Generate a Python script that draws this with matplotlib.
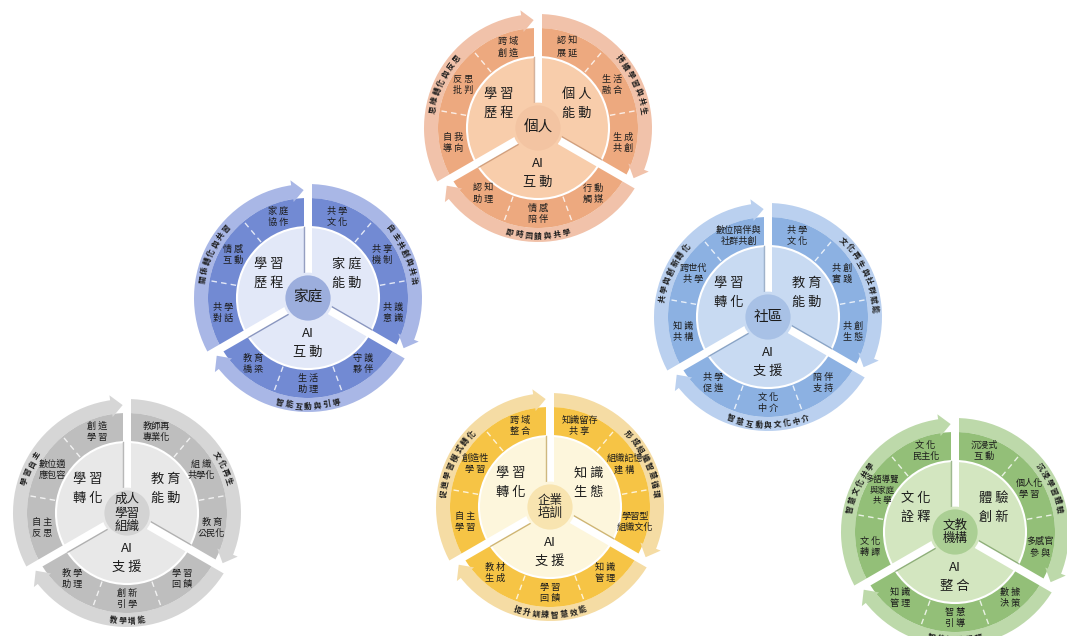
import numpy as np
import matplotlib.pyplot as plt
from matplotlib.patches import Wedge, Circle, Polygon

plt.rcParams['font.family'] = ['Noto Sans CJK TC', 'DejaVu Sans']

W, H = 1067, 636

# ---- content ----
hub_names = ['個人', '家庭', '社區', '成人\n學習\n組織', '企業\n培訓', '文教\n機構']

# inner ring labels: [upper-left, upper-right, bottom]
inner_labels = [
    ['學 習\n歷 程', '個 人\n能 動', 'AI\n互 動'],
    ['學 習\n歷 程', '家 庭\n能 動', 'AI\n互 動'],
    ['學 習\n轉 化', '教 育\n能 動', 'AI\n支 援'],
    ['學 習\n轉 化', '教 育\n能 動', 'AI\n支 援'],
    ['學 習\n轉 化', '知 識\n生 態', 'AI\n支 援'],
    ['文 化\n詮 釋', '體 驗\n創 新', 'AI\n整 合'],
]

# outer cells, per sector, ordered top -> bottom / left -> right
cell_labels = [
    [['跨域\n創造', '反思\n批判', '自我\n導向'],
     ['認知\n展延', '生活\n融合', '生成\n共創'],
     ['認知\n助理', '情感\n陪伴', '行動\n觸媒']],
    [['家庭\n協作', '情感\n互動', '共學\n對話'],
     ['共學\n文化', '共享\n機制', '共護\n意識'],
     ['教育\n橋梁', '生活\n助理', '守護\n夥伴']],
    [['數位陪伴與\n社群共創', '跨世代\n共學', '知識\n共構'],
     ['共學\n文化', '共創\n實踐', '共創\n生態'],
     ['共學\n促進', '文化\n中介', '陪伴\n支持']],
    [['創造\n學習', '數位適\n應包容', '自主\n反思'],
     ['教師再\n專業化', '組織\n共學化', '教育\n公民化'],
     ['教學\n助理', '創新\n引學', '學習\n回饋']],
    [['跨域\n整合', '創造性\n學習', '自主\n學習'],
     ['知識留存\n共享', '組織記憶\n建構', '學習型\n組織文化'],
     ['教材\n生成', '學習\n回饋', '知識\n管理']],
    [['文化\n民主化', '多語導覽\n與家庭\n共學', '文化\n轉譯'],
     ['沉浸式\n互動', '個人化\n學習', '多感官\n參與'],
     ['知識\n管理', '智慧\n引導', '數據\n決策']],
]

# curved labels on the outer band: [left, right, bottom]
arc_labels = [
    ['思維轉化與反思', '持續學習與共生', '即時回饋與共學'],
    ['關係轉化與共習', '自主共創與共治', '智能互動與引導'],
    ['共學與創新轉化', '文化再生與社群賦能', '智慧互動與文化中介'],
    ['學習自主', '文化再生', '教學增能'],
    ['促進學習模式轉化', '形成組織智慧循環', '提升訓練智慧效能'],
    ['智慧文化共學', '沉浸學習體驗', '智能知識服務'],
]

# ---- layout / style ----
wheel_xy = [(538, 128), (308, 298), (768, 317), (127, 513), (550, 507), (955, 532)]
# outer cells, inner ring, hub, band, shadow
palettes = [
    ('#EDA97F', '#F8CDAB', '#F3C4A2', '#F1C2AA', '#B8805C'),
    ('#728AD3', '#E2E8F8', '#9CAEDD', '#A9B7E6', '#4E5F99'),
    ('#8CB1E2', '#C8DAF2', '#A8C1E6', '#BAD0EF', '#5F7FA8'),
    ('#BEBEBE', '#E8E8E8', '#D3D3D3', '#D6D6D6', '#8A8A8A'),
    ('#F6C445', '#FDF6DC', '#F8E4B0', '#F5DCA4', '#B08A2C'),
    ('#93BF78', '#D3E6C0', '#ABCF94', '#BDD9AA', '#5F8A48'),
]

sectors = [(90, 210), (-30, 90), (210, 330)]
cell_angles = [[110, 150, 190], [70, 30, -10], [230, 270, 310]]
inner_pos = [(148, 46), (32, 46), (270, 45)]
r0, r1, r2, r3 = 22, 71, 100, 114
gap_hw = 4.0
txt = '#1c1c1c'

fig = plt.figure(figsize=(W / 100, H / 100), dpi=100)
ax = fig.add_axes([0, 0, 1, 1])
ax.set_xlim(0, W)
ax.set_ylim(0, H)
ax.axis('off')


def pol(cx, cy, ang, r):
    a = np.radians(ang)
    return cx + r * np.cos(a), cy + r * np.sin(a)


def spaced(s):
    # loosen two-character lines a little, like the original typesetting
    return '\n'.join(' '.join(line) if len(line) <= 2 else line
                     for line in s.split('\n'))


def arc_text(cx, cy, text, mid, r, clockwise, step, size):
    n = len(text)
    d = np.degrees(step / r)
    for i, ch in enumerate(text):
        off = (i - (n - 1) / 2) * d
        if clockwise:
            th = mid - off
            rot = th - 90
        else:
            th = mid + off
            rot = th + 90
        x, y = pol(cx, cy, th, r)
        ax.text(x, y, ch, rotation=rot, rotation_mode='anchor', ha='center',
                va='center', fontsize=size, color=txt, fontweight='bold')


for k in range(len(hub_names)):
    cx, cy = wheel_xy[k][0], H - wheel_xy[k][1]
    c_out, c_in, c_hub, c_band, c_sh = palettes[k]

    # outer band with arrow at clockwise end
    for a0, a1 in sectors:
        ax.add_patch(Wedge((cx, cy), r3, a0 + 8, a1, width=r3 - r2,
                           facecolor=c_band, edgecolor='none', zorder=1))
        pts = [pol(cx, cy, a0 + 8.5, r2 - 3), pol(cx, cy, a0 + 8.5, r3 + 5),
               pol(cx, cy, a0 + 2.3, (r2 + r3) / 2 + 1)]
        ax.add_patch(Polygon(pts, closed=True, facecolor=c_band,
                             edgecolor='none', zorder=4))
        ax.add_patch(Wedge((cx, cy), r2, a0, a1, width=r2 - r1,
                           facecolor=c_out, edgecolor='none', zorder=2))
        for da in (40, 80):
            ax.plot(*zip(pol(cx, cy, a0 + da, r1 + 2), pol(cx, cy, a0 + da, r2 - 2)),
                    color='white', lw=1.0, ls=(0, (4, 3)), alpha=0.8, zorder=3)

    ax.add_patch(Circle((cx, cy), r1, facecolor=c_in, edgecolor='white',
                        lw=1.5, alpha=1, zorder=3))

    # white gaps between sectors
    for a in (90, 210, 330):
        u = np.array([np.cos(np.radians(a)), np.sin(np.radians(a))])
        v = np.array([-u[1], u[0]])
        c = np.array([cx, cy])
        L = r3 + 10
        pts = [c + v * gap_hw, c + u * L + v * gap_hw,
               c + u * L - v * gap_hw, c - v * gap_hw]
        ax.add_patch(Polygon(pts, closed=True, facecolor='white',
                             edgecolor='none', zorder=5))
        s0 = c + u * r0 + v * (gap_hw + 0.4)
        s1 = c + u * r1 + v * (gap_hw + 0.4)
        ax.plot([s0[0], s1[0]], [s0[1], s1[1]], color=c_sh, lw=1.0,
                alpha=0.6, zorder=5)

    ax.add_patch(Circle((cx, cy), r0 + 2, facecolor=c_hub, edgecolor=c_in,
                        lw=2, zorder=6))
    hub_fs = 9 if '\n' in hub_names[k] else 10.5
    ax.text(cx, cy, hub_names[k], ha='center', va='center', fontsize=hub_fs,
            color=txt, linespacing=1.05, zorder=7)

    for s in range(3):
        ang, rr = inner_pos[s]
        x, y = pol(cx, cy, ang, rr)
        ax.text(x, y, inner_labels[k][s], ha='center', va='center', fontsize=9.5,
                color=txt, linespacing=1.6, zorder=7)
        for j in range(3):
            lab = cell_labels[k][s][j]
            three = lab.count('\n') == 2
            x, y = pol(cx, cy, cell_angles[s][j], 84 if three else 86)
            ax.text(x, y, spaced(lab), ha='center', va='center',
                    fontsize=6.0 if three else 6.6, color=txt,
                    linespacing=1.2 if three else 1.3, zorder=7)

    left, right, bottom = arc_labels[k]
    arc_text(cx, cy, left, 155, r2 + 7, True, 9.5, 5.6)
    arc_text(cx, cy, right, 25, r2 + 7, True, 9.5, 5.6)
    arc_text(cx, cy, bottom, 270, r3 - 6, False, 9.5, 5.6)

fig.savefig('out.png', dpi=100, facecolor='white')
